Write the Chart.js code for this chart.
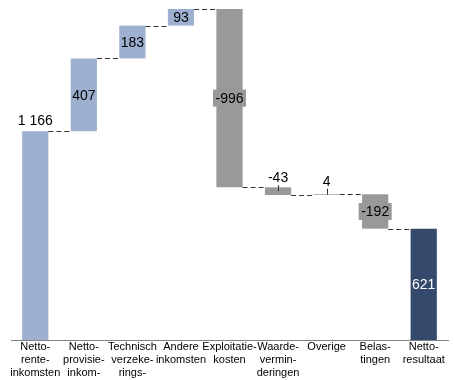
<!DOCTYPE html>
<html>
<head>
<meta charset="utf-8">
<script src="https://cdn.jsdelivr.net/npm/chart.js@4/dist/chart.umd.min.js"></script>
<style>
  html, body { margin: 0; padding: 0; background: #ffffff; }
  #wrap { width: 455px; height: 380px; }
</style>
</head>
<body>
<div id="wrap"><canvas id="chart" width="455" height="380"></canvas></div>
<script>
// Bridge from net interest income to net result (waterfall)
const categories = [
  ['Netto-', 'rente-', 'inkomsten'],
  ['Netto-', 'provisie-', 'inkom-'],
  ['Technisch', 'verzeke-', 'rings-'],
  ['Andere', 'inkomsten'],
  ['Exploitatie-', 'kosten'],
  ['Waarde-', 'vermin-', 'deringen'],
  ['Overige'],
  ['Belas-', 'tingen'],
  ['Netto-', 'resultaat']
];
const values = [1166, 407, 183, 93, -996, -43, 4, -192, 621];
const isTotal = [true, false, false, false, false, false, false, false, true];

// Appearance per column
const BLUE = '#9db0cf', GREY = '#999999', NAVY = '#34496c';
const barColors = [BLUE, BLUE, BLUE, BLUE, GREY, GREY, GREY, GREY, NAVY];
const labelStyle = ['above', 'inside', 'inside', 'inside', 'box', 'leader', 'leader', 'box', 'inside'];
const labelColors = ['#000', '#000', '#000', '#000', '#000', '#000', '#000', '#000', '#ffffff'];

// Floating ranges and the running level after each column
const ranges = [];
const levels = [];
let running = 0;
values.forEach((v, i) => {
  if (isTotal[i]) {
    ranges.push([0, v]);
    running = v;
  } else {
    ranges.push([running, running + v]);
    running += v;
  }
  levels.push(running);
});
const peak = Math.max(...levels);

function fmt(v) {
  const s = Math.abs(v).toString().replace(/\B(?=(\d{3})+(?!\d))/g, ' ');
  return (v < 0 ? '-' : '') + s;
}

const FONT = '"Liberation Sans", Arial, sans-serif';

const waterfallDecor = {
  id: 'waterfallDecor',
  afterDatasetsDraw(chart) {
    const ctx = chart.ctx;
    const y = chart.scales.y;
    const bars = chart.getDatasetMeta(0).data;

    // dashed connectors between neighbouring columns
    ctx.save();
    ctx.strokeStyle = '#333333';
    ctx.lineWidth = 1;
    ctx.setLineDash([5, 3]);
    for (let i = 0; i < bars.length - 1; i++) {
      const a = bars[i], b = bars[i + 1];
      const py = Math.round(y.getPixelForValue(levels[i])) + 0.5;
      ctx.beginPath();
      ctx.moveTo(a.x + a.width / 2, py);
      ctx.lineTo(b.x - b.width / 2, py);
      ctx.stroke();
    }
    ctx.restore();

    // value labels
    ctx.save();
    ctx.font = '14px ' + FONT;
    ctx.textAlign = 'center';
    ctx.textBaseline = 'middle';
    bars.forEach((bar, i) => {
      const text = fmt(values[i]);
      const top = Math.min(bar.y, bar.base);
      const bottom = Math.max(bar.y, bar.base);
      const mid = (top + bottom) / 2;
      const style = labelStyle[i];
      if (style === 'above') {
        ctx.fillStyle = labelColors[i];
        ctx.fillText(text, bar.x, top - 10);
      } else if (style === 'inside') {
        ctx.fillStyle = labelColors[i];
        ctx.fillText(text, bar.x, mid + 1);
      } else if (style === 'box') {
        const w = ctx.measureText(text).width + 5;
        const h = 17;
        ctx.fillStyle = barColors[i];
        ctx.fillRect(bar.x - w / 2, mid - h / 2, w, h);
        ctx.fillStyle = labelColors[i];
        ctx.fillText(text, bar.x, mid + 1);
      } else if (style === 'leader') {
        ctx.strokeStyle = '#333333';
        ctx.lineWidth = 1;
        ctx.beginPath();
        const lx = Math.round(bar.x) + 0.5;
        ctx.moveTo(lx, mid - 6);
        ctx.lineTo(lx, mid);
        ctx.stroke();
        ctx.fillStyle = labelColors[i];
        ctx.fillText(text, bar.x, mid - 13);
      }
    });
    ctx.restore();
  }
};

new Chart(document.getElementById('chart'), {
  type: 'bar',
  data: {
    labels: categories,
    datasets: [{
      data: ranges,
      backgroundColor: barColors,
      borderWidth: 0,
      barPercentage: 0.54,
      categoryPercentage: 1.0
    }]
  },
  options: {
    responsive: false,
    devicePixelRatio: 1,
    animation: false,
    layout: { padding: { left: 11, right: 7, top: 9, bottom: 0 } },
    plugins: {
      legend: { display: false },
      tooltip: { enabled: false }
    },
    scales: {
      x: {
        grid: { display: false, drawTicks: false },
        border: { display: true, color: '#808080', width: 1 },
        ticks: {
          color: '#000000',
          font: { family: FONT, size: 11, lineHeight: 1.15 },
          padding: 1,
          autoSkip: false,
          maxRotation: 0,
          minRotation: 0
        }
      },
      y: {
        display: false,
        min: 0,
        max: peak
      }
    }
  },
  plugins: [waterfallDecor]
});
</script>
</body>
</html>
